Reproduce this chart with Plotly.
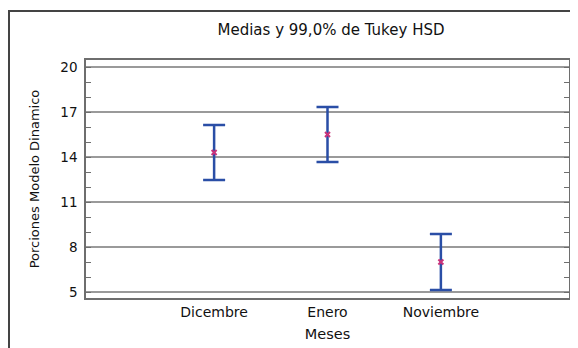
import plotly.graph_objects as go

categories = ["Dicembre", "Enero", "Noviembre"]
means = [14.3, 15.5, 7.0]
lower = [12.47, 13.67, 5.13]
upper = [16.13, 17.33, 8.87]
y_ticks = [5, 8, 11, 14, 17, 20]

xpos = list(range(1, len(categories) + 1))
err_plus = [u - m for u, m in zip(upper, means)]
err_minus = [m - l for m, l in zip(means, lower)]

FONT = "DejaVu Sans, Liberation Sans, Arial, sans-serif"
BLUE = "#2a4ea6"
FRAME = "#6e6e6e"

# page body has an 8px margin, so the figure is sized to fill the rest
W, H = 570, 340
L, R, T, B = 78, 9, 52, 50
PW, PH = W - L - R, H - T - B

fig = go.Figure()
fig.add_trace(go.Scatter(
    x=xpos, y=means, mode="markers",
    marker=dict(symbol="x-thin", size=5, color="#c8327a",
                line=dict(color="#c8327a", width=2)),
    error_y=dict(type="data", symmetric=False, array=err_plus,
                 arrayminus=err_minus, color=BLUE, thickness=2.5, width=11),
    showlegend=False, hoverinfo="skip",
))

fig.update_layout(
    width=W, height=H,
    margin=dict(l=L, r=R, t=T, b=B, autoexpand=False),
    paper_bgcolor="white", plot_bgcolor="white",
    font=dict(family=FONT, size=13, color="#111"),
    title=dict(text="Medias y 99,0% de Tukey HSD", x=(331 - 8) / W, xanchor="center",
               y=1 - 22 / H, yanchor="middle",
               font=dict(family=FONT, size=15, color="#111")),
    xaxis=dict(
        range=[-0.13, 4.13], tickvals=xpos, ticktext=categories,
        showgrid=False, zeroline=False, ticks="", ticklabelstandoff=0,
        showline=True, linecolor=FRAME, linewidth=1.5, mirror=True,
        tickfont=dict(size=14), automargin=False,
        title=dict(text="Meses", standoff=10, font=dict(size=14.5)),
    ),
    yaxis=dict(
        range=[4.6, 20.47], tickvals=y_ticks, automargin=False,
        showgrid=True, gridcolor="#9a9a9a", gridwidth=1.5, zeroline=False,
        ticks="", showline=True, linecolor=FRAME, linewidth=1.5, mirror="ticks",
        minor=dict(dtick=1, tick0=5, ticks="inside", ticklen=5, tickcolor=FRAME,
                   tickwidth=1, showgrid=False),
        tickfont=dict(size=13.5), ticklabelstandoff=4,
        title=dict(text="Porciones Modelo Dinamico", standoff=18,
                   font=dict(size=13)),
    ),
    shapes=[dict(type="rect", xref="paper", yref="paper",
                 x0=(1 - L) / PW, x1=(W + 10 - L) / PW,
                 y0=(PH + T - H - 10) / PH, y1=(PH + T - 3) / PH,
                 line=dict(color="#444", width=2), layer="below")],
)

fig.write_html("out.html")
